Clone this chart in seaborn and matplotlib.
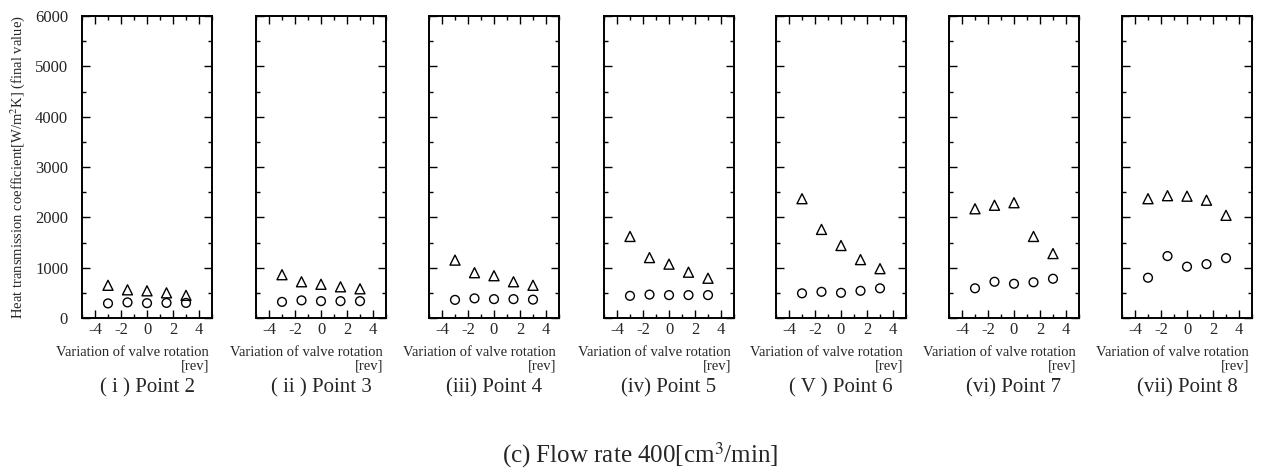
import numpy as np
import pandas as pd
import matplotlib
matplotlib.use("Agg")
import matplotlib.pyplot as plt
from matplotlib.ticker import MultipleLocator
import seaborn as sns

sns.set_style("ticks")
plt.rcParams['font.family'] = ['Liberation Serif', 'DejaVu Serif']
plt.rcParams['mathtext.fontset'] = 'stix'

# ---- data ----
rotation = [-3, -1.5, 0, 1.5, 3]

circle_point2 = [290, 310, 295, 300, 300]
circle_point3 = [320, 350, 335, 335, 335]
circle_point4 = [360, 390, 375, 375, 365]
circle_point5 = [440, 465, 455, 455, 455]
circle_point6 = [490, 520, 500, 540, 590]
circle_point7 = [590, 720, 680, 710, 780]
circle_point8 = [800, 1230, 1020, 1070, 1190]

triangle_point2 = [650, 560, 540, 500, 450]
triangle_point3 = [860, 720, 670, 620, 580]
triangle_point4 = [1150, 900, 840, 720, 650]
triangle_point5 = [1620, 1200, 1070, 910, 790]
triangle_point6 = [2370, 1760, 1440, 1160, 980]
triangle_point7 = [2170, 2240, 2290, 1620, 1280]
triangle_point8 = [2370, 2430, 2420, 2340, 2040]

panel_titles = ["( i ) Point 2", "( ii ) Point 3", "(iii) Point 4", "(iv) Point 5",
                "( V ) Point 6", "(vi) Point 7", "(vii) Point 8"]
xticks = [-4, -2, 0, 2, 4]
yticks = [0, 1000, 2000, 3000, 4000, 5000, 6000]

circles = [circle_point2, circle_point3, circle_point4, circle_point5,
           circle_point6, circle_point7, circle_point8]
triangles = [triangle_point2, triangle_point3, triangle_point4, triangle_point5,
             triangle_point6, triangle_point7, triangle_point8]

W, H = 1262, 474
fig = plt.figure(figsize=(W / 100, H / 100), dpi=100)

lefts = [82, 256, 429, 604, 776, 949, 1122]
ax_w = 130
ax_top, ax_bot = 16, 318

for i, left in enumerate(lefts):
    ax = fig.add_axes([left / W, 1 - ax_bot / H, ax_w / W, (ax_bot - ax_top) / H])
    df_c = pd.DataFrame({"rotation": rotation, "htc": circles[i]})
    df_t = pd.DataFrame({"rotation": rotation, "htc": triangles[i]})
    sns.scatterplot(data=df_t, x="rotation", y="htc", marker="^", s=52,
                    facecolor="none", edgecolor="black", linewidth=1.0, ax=ax)
    sns.scatterplot(data=df_c, x="rotation", y="htc", marker="o", s=40,
                    facecolor="none", edgecolor="black", linewidth=1.0, ax=ax)
    ax.set_xlim(-5, 5)
    ax.set_ylim(0, 6000)
    ax.set_xticks(xticks)
    ax.set_yticks(yticks)
    ax.xaxis.set_minor_locator(MultipleLocator(1))
    ax.yaxis.set_minor_locator(MultipleLocator(500))
    ax.tick_params(which='both', direction='in', top=True, right=True,
                   width=1.0, color='black', labelsize=12)
    ax.tick_params(axis='x', which='both', pad=3)
    ax.tick_params(axis='y', which='both', pad=10)
    ax.tick_params(which='major', length=6)
    ax.tick_params(which='minor', length=3)
    ax.set_xlabel("")
    ax.set_ylabel("")
    for sp in ax.spines.values():
        sp.set_linewidth(1.4)
        sp.set_color('black')
    if i > 0:
        ax.set_yticklabels([])
    else:
        ax.set_yticklabels([str(v) for v in yticks])
    ax.set_xticklabels([str(v) for v in xticks])

    right_px = left + ax_w - 3
    fig.text(right_px / W, 1 - 352 / H, "Variation of valve rotation",
             ha='right', va='center', fontsize=10.5)
    fig.text(right_px / W, 1 - 366 / H, "[rev]", ha='right', va='center', fontsize=10.5)
    fig.text((left + ax_w / 2) / W, 1 - 388 / H, panel_titles[i],
             ha='center', va='center', fontsize=15)

fig.text(18 / W, 1 - 167 / H,
         "Heat transmission coefficient[W/m$^2$K] (final value)",
         rotation=90, ha='center', va='center', fontsize=10.5)
fig.text(640 / W, 1 - 455 / H, "(c) Flow rate 400[cm$^3$/min]",
         ha='center', va='center', fontsize=18)

fig.savefig("out.png", dpi=100, facecolor='white')
